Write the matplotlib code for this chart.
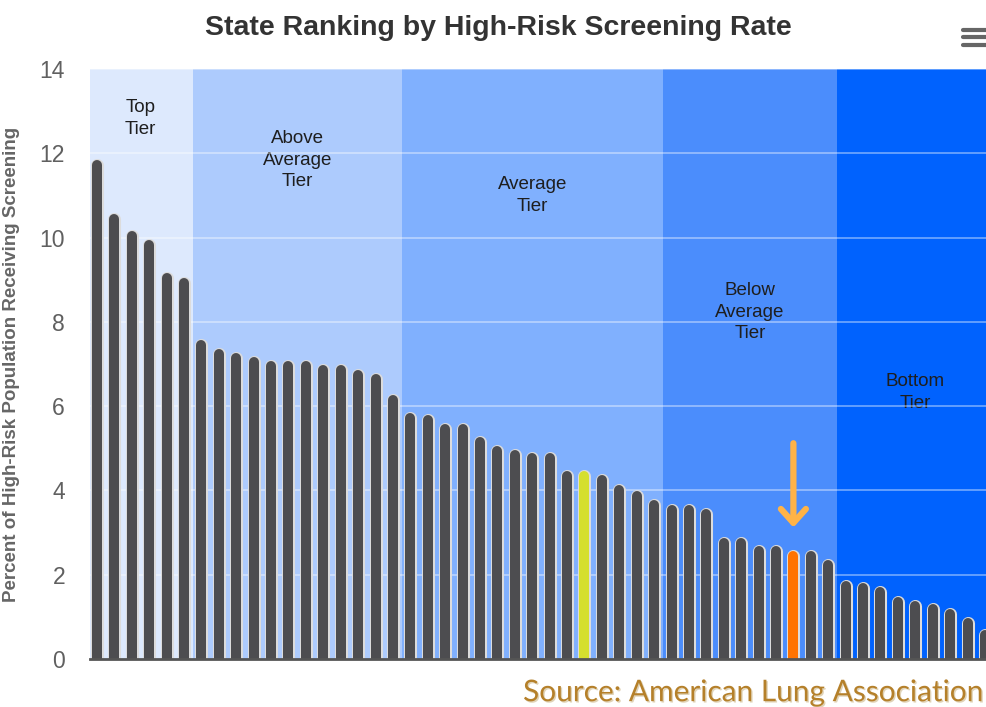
import matplotlib
matplotlib.use("Agg")
import matplotlib.pyplot as plt
import matplotlib.patheffects as pe
from matplotlib.lines import Line2D
import numpy as np


# Данные: процент охвата скринингом по штатам (по убыванию)

top_tier = [11.85, 10.55, 10.15, 9.95, 9.15, 9.05]
above_avg = [7.57, 7.35, 7.25, 7.17, 7.08, 7.08, 7.08, 6.97, 6.97, 6.86, 6.76, 6.26]
average = [5.84, 5.78, 5.57, 5.57, 5.27, 5.05, 4.96, 4.88, 4.88, 4.47, 4.46, 4.36, 4.14, 3.99, 3.77]
below_avg = [3.65, 3.65, 3.57, 2.86, 2.86, 2.69, 2.69, 2.57, 2.57, 2.35]
bottom_tier = [1.85, 1.80, 1.70, 1.48, 1.38, 1.30, 1.18, 0.97, 0.69]

tiers = [top_tier, above_avg, average, below_avg, bottom_tier]
tier_names = ["Top\nTier", "Above\nAverage\nTier", "Average\nTier", "Below\nAverage\nTier", "Bottom\nTier"]
tier_colors = ["#dde9fd", "#adcbfd", "#80b0fe", "#4b8dfc", "#0062fe"]
tier_label_y = [12.83, 11.84, 11.0, 8.23, 6.33]

highlight_yellow = 28
highlight_orange = 40

values = np.concatenate(tiers)
n = len(values)
idx = np.arange(n)

fig = plt.figure(figsize=(9.87, 7.07), dpi=100)
ax = fig.add_axes([0.0912, 0.0679, 0.9088, 0.8345])
ax.set_xlim(-0.4, 51.12)
ax.set_ylim(0, 14)

# Полосы уровней
start = -0.5
for vals, name, col, ly in zip(tiers, tier_names, tier_colors, tier_label_y):
    end = start + len(vals)
    ax.axvspan(start, end, color=col, zorder=0, lw=0)
    ax.text((start + end) / 2, ly, name, ha="center", va="center", fontsize=13.5,
            color="#1e1e1e", family="Liberation Sans", linespacing=1.35, zorder=1)
    start = end

for y in range(2, 15, 2):
    ax.axhline(y, color="white", alpha=0.45, lw=1.2, zorder=1)

# Столбцы со скруглённым верхом
bar_px = 10
ax_h_px = fig.get_figheight() * fig.dpi * 0.8345
radius = (bar_px / 2) * 14 / ax_h_px
colors = ["#4d4d50"] * n
colors[highlight_yellow] = "#d5df2e"
colors[highlight_orange] = "#ff7300"
lw_pt = bar_px * 72 / fig.dpi
ax.vlines(idx, 0, values - radius, colors=colors, lw=lw_pt, capstyle="round", zorder=3,
          path_effects=[pe.Stroke(linewidth=lw_pt + 2.2, foreground="#dcdcdc"), pe.Normal()])

# Стрелка над выделенным штатом
ax.annotate("", xy=(highlight_orange, 3.12), xytext=(highlight_orange, 5.12),
            arrowprops=dict(arrowstyle="->,head_length=1.0,head_width=0.9", color="#ffb347",
                            lw=4.5, capstyle="round", joinstyle="round", shrinkA=0, shrinkB=0),
            zorder=4)

ax.set_xticks([])
ax.set_yticks(range(0, 15, 2))
ax.tick_params(axis="y", length=0, pad=18, labelsize=16.5, labelcolor="#606060")
for lab in ax.get_yticklabels():
    lab.set_family("Liberation Sans")
for s in ["top", "right", "left"]:
    ax.spines[s].set_visible(False)
ax.spines["bottom"].set_color("#555555")
ax.spines["bottom"].set_linewidth(2)
ax.spines["bottom"].set_zorder(5)

ax.set_ylabel("Percent of High-Risk Population Receiving Screening", fontsize=13.5,
              fontweight="bold", color="#666666", family="Liberation Sans", labelpad=14)

fig.text(0.505, 0.961, "State Ranking by High-Risk Screening Rate", ha="center", va="center",
         fontsize=20.5, fontweight="bold", color="#333333", family="Liberation Sans")

fig.text(0.997, 0.021, "Source: American Lung Association", ha="right", va="center",
         fontsize=21.5, color="#b5802a", family="Lato",
         path_effects=[pe.withSimplePatchShadow(offset=(1, -1), shadow_rgbFace="#d9c9a6", alpha=0.8)])

# Значок меню
for yy in [0.957, 0.947, 0.937]:
    fig.add_artist(Line2D([0.976, 0.999], [yy, yy], color="#666666", lw=3, solid_capstyle="round"))

fig.savefig("out.png", dpi=100)
